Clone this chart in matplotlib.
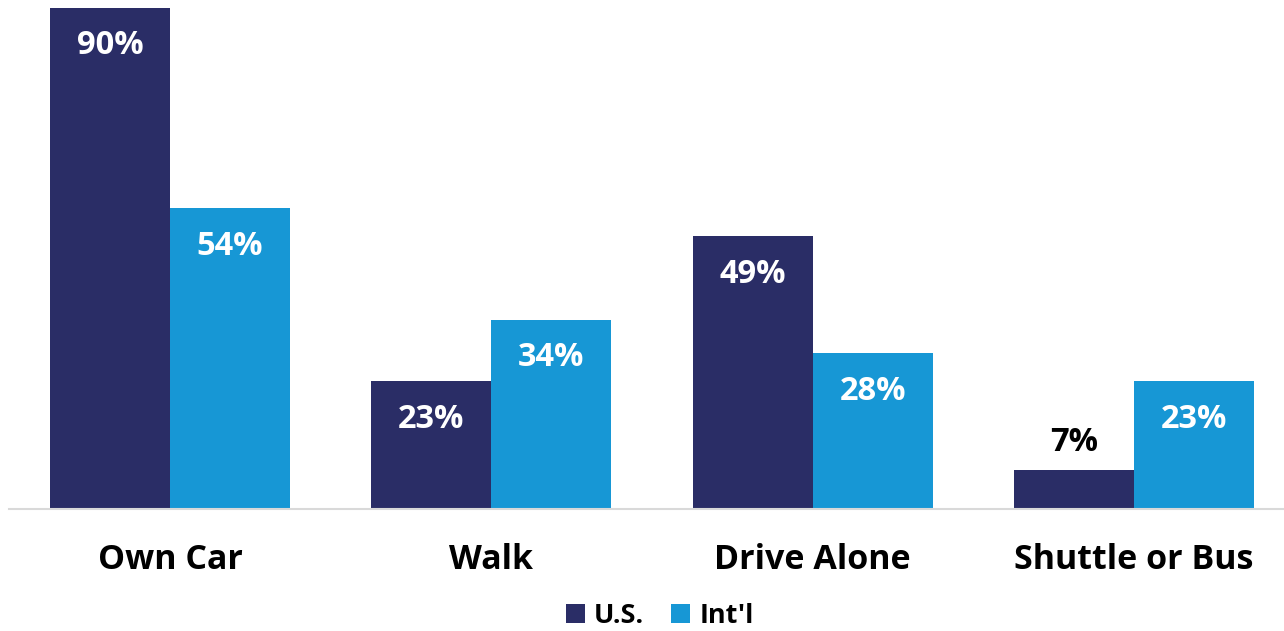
import matplotlib
matplotlib.use('Agg')
import matplotlib.pyplot as plt
import matplotlib.transforms as mtransforms
from matplotlib.patches import Patch
import numpy as np

plt.rcParams['font.family'] = ['Open Sans', 'DejaVu Sans']
plt.rcParams['font.weight'] = 'bold'

# data
categories = ['Own Car', 'Walk', 'Drive Alone', 'Shuttle or Bus']
us = [90, 23, 49, 7]
intl = [54, 34, 28, 23]
series_names = ['U.S.', "Int'l"]
colors = ['#2a2d66', '#1797d5']

fig = plt.figure(figsize=(12.84, 6.31), dpi=100)
ax = fig.add_axes([9 / 1284, 122 / 631, 1 - 9 / 1284, 1 - 122 / 631])

x = np.arange(len(categories))
w = 0.3735
b1 = ax.bar(x - w / 2, us, w, color=colors[0])
b2 = ax.bar(x + w / 2, intl, w, color=colors[1])

ax.set_xlim(-0.501, 3.467)
ax.set_ylim(0, 91.4)

for bars in (b1, b2):
    for rect in bars:
        h = rect.get_height()
        cx = rect.get_x() + rect.get_width() / 2
        if h < 10:
            ax.annotate(f'{h:.0f}%', (cx, h), xytext=(0, 20), textcoords='offset points',
                        ha='center', va='center', fontsize=23.5, color='black', fontweight='bold')
        else:
            ax.annotate(f'{h:.0f}%', (cx, h), xytext=(0, -27.5), textcoords='offset points',
                        ha='center', va='center', fontsize=23.5, color='white', fontweight='bold')

# category labels below axis
trans = mtransforms.offset_copy(ax.get_xaxis_transform(), fig=fig, x=0, y=-37, units='points')
for i, c in enumerate(categories):
    ax.text(i, 0, c, transform=trans, ha='center', va='center', fontsize=24.5, fontweight='bold')

ax.set_xticks([])
ax.set_yticks([])
for s in ['top', 'right', 'left']:
    ax.spines[s].set_visible(False)
ax.spines['bottom'].set_color('#d9d9d9')
ax.spines['bottom'].set_linewidth(1.5)

handles = [Patch(facecolor=colors[0]), Patch(facecolor=colors[1])]
fig.legend(handles, series_names, loc='center', bbox_to_anchor=(0.514, 15 / 631), ncol=2,
           frameon=False, prop={'size': 19.5, 'weight': 'bold'}, handlelength=0.7, handleheight=0.7,
           handletextpad=0.35, columnspacing=1.0, borderpad=0)

fig.savefig('out.png', dpi=100)
